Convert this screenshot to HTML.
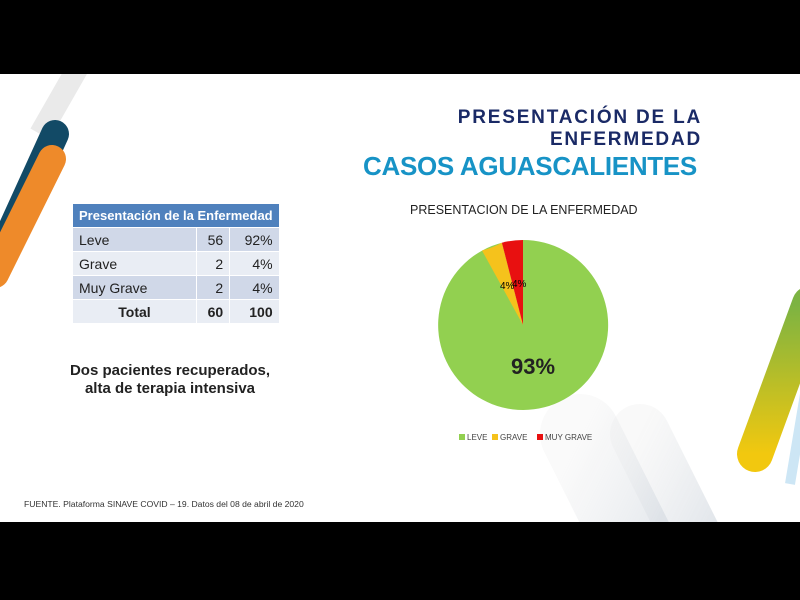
<!DOCTYPE html>
<html><head><meta charset="utf-8"><style>
body{margin:0;width:800px;height:600px;background:#000;position:relative;overflow:hidden;font-family:"Liberation Sans",sans-serif}
.slide{position:absolute;left:0;top:74px;width:800px;height:448px;background:#fff;overflow:hidden}
.t{position:absolute;white-space:nowrap}
table{position:absolute;left:72px;top:129px;border-collapse:collapse;font-size:14px;color:#222}
td{height:23px;padding:0 6px;border:1px solid #fff;white-space:nowrap}
</style></head><body>
<div class="slide">
<svg width="800" height="448" style="position:absolute;left:0;top:0">
<defs>
<linearGradient id="g1" x1="0" y1="0" x2="0" y2="1"><stop offset="0" stop-color="#7cb342"/><stop offset="1" stop-color="#f2c80f"/></linearGradient>
<linearGradient id="gr" x1="0" y1="0" x2="1" y2="1"><stop offset="0" stop-color="#eee" stop-opacity="0.6"/><stop offset="1" stop-color="#cfd6de"/></linearGradient>
</defs>
<line x1="80" y1="-10" x2="40" y2="60" stroke="#eaeaea" stroke-width="22"/>
<line x1="55" y1="60" x2="5" y2="170" stroke="#124a66" stroke-width="28" stroke-linecap="round"/>
<line x1="52" y1="85" x2="-5" y2="200" stroke="#ee8a2a" stroke-width="28" stroke-linecap="round"/>
<line x1="700" y1="480" x2="640" y2="360" stroke="url(#gr)" stroke-width="60" stroke-linecap="round" opacity="0.6"/>
<line x1="640" y1="480" x2="580" y2="360" stroke="url(#gr)" stroke-width="80" stroke-linecap="round" opacity="0.5"/>
<line x1="810" y1="290" x2="790" y2="410" stroke="#cde6f5" stroke-width="10"/>
<line x1="810" y1="230" x2="755" y2="380" stroke="url(#g1)" stroke-width="36" stroke-linecap="round"/>
<path d="M523 251 L523 166 A85 85 0 1 1 501.9 168.7 Z" fill="#92d050"/>
<path d="M523 251 L501.9 168.7 A85 85 0 0 1 482 176.5 Z" fill="#f5c21c"/>
<path d="M523 251 L523 166 A85 85 0 0 0 501.9 168.7 Z" fill="#e81010"/>
<text x="500" y="215" font-size="10" font-family="Liberation Sans">4%</text>
<text x="512" y="213" font-size="10" font-family="Liberation Sans">4%</text>
<text x="533" y="300" font-size="22" font-weight="bold" font-family="Liberation Sans" text-anchor="middle" fill="#222">93%</text>
<rect x="459" y="360" width="6" height="6" fill="#92d050"/><text x="467" y="366" font-size="8" fill="#444">LEVE</text>
<rect x="492" y="360" width="6" height="6" fill="#f5c21c"/><text x="500" y="366" font-size="8" fill="#444">GRAVE</text>
<rect x="537" y="360" width="6" height="6" fill="#e81010"/><text x="545" y="366" font-size="8" fill="#444">MUY GRAVE</text>
</svg>
<div class="t" style="right:98px;top:33px;font-size:19px;font-weight:bold;color:#1a2a66;text-align:right;line-height:22px;letter-spacing:1.8px">PRESENTACIÓN DE LA<br>ENFERMEDAD</div>
<div class="t" style="left:363px;top:77px;font-size:26px;font-weight:bold;color:#1793c6;letter-spacing:-0.3px">CASOS AGUASCALIENTES</div>
<div class="t" style="left:410px;top:129px;font-size:12.5px;color:#222">PRESENTACION DE LA ENFERMEDAD</div>
<table>
<tr><td colspan="3" style="background:#4f81bd;color:#fff;font-weight:bold;font-size:13px;width:193px">Presentación de la Enfermedad</td></tr>
<tr style="background:#d0d8e8"><td style="width:110px">Leve</td><td style="text-align:right;width:20px">56</td><td style="text-align:right;width:36px">92%</td></tr>
<tr style="background:#e9edf4"><td>Grave</td><td style="text-align:right">2</td><td style="text-align:right">4%</td></tr>
<tr style="background:#d0d8e8"><td>Muy Grave</td><td style="text-align:right">2</td><td style="text-align:right">4%</td></tr>
<tr style="background:#e9edf4;font-weight:bold"><td style="text-align:center">Total</td><td style="text-align:right">60</td><td style="text-align:right">100</td></tr>
</table>
<div class="t" style="left:60px;top:288px;width:220px;text-align:center;font-size:15px;font-weight:bold;color:#222;line-height:18px">Dos pacientes recuperados,<br>alta de terapia intensiva</div>
<div class="t" style="left:24px;top:425px;font-size:8.6px;color:#333">FUENTE. Plataforma SINAVE COVID – 19. Datos del 08 de abril de 2020</div>
</div>
</body></html>
